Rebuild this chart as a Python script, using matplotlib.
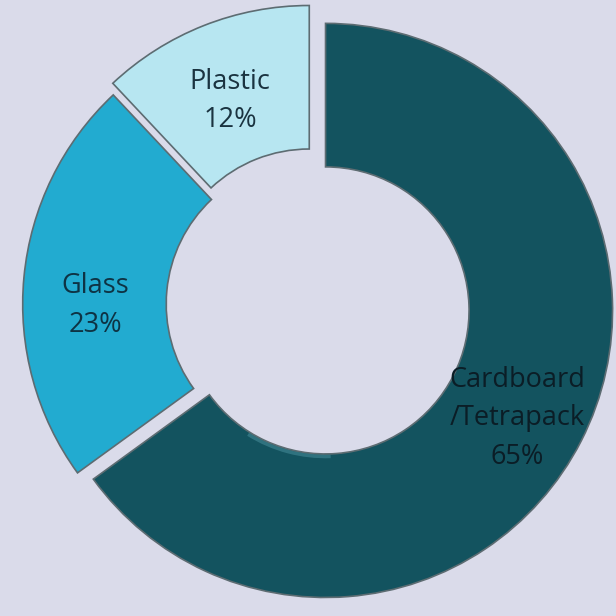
import matplotlib.pyplot as plt
from matplotlib.patches import Arc

# share of collected packaging by material
materials = ['Cardboard\n/Tetrapack', 'Glass', 'Plastic']
shares = [65, 23, 12]
colors = ['#13535f', '#22abd0', '#b7e6f1']
text_colors = ['#0b1d26', '#0e3344', '#1a3340']
label_nudge = [-0.035, -0.075, -0.03]

plt.rcParams['font.family'] = ['Open Sans', 'DejaVu Sans']

fig = plt.figure(figsize=(6.16, 6.16), dpi=100)
fig.patch.set_facecolor('#dadbea')
ax = fig.add_axes([0, 0, 1, 1])
ax.set_facecolor('#dadbea')

labels = [f'{m}\n{s}%' for m, s in zip(materials, shares)]
wedges, texts = ax.pie(shares, labels=labels, colors=colors,
                       startangle=90, counterclock=False,
                       explode=[0.045, 0.015, 0.045],
                       labeldistance=0.75,
                       wedgeprops=dict(width=0.5, edgecolor='#5d6c72', linewidth=1.2),
                       textprops=dict(fontsize=19.5, ha='center', va='center', linespacing=1.5))
for t, c, dy in zip(texts, text_colors, label_nudge):
    t.set_color(c)
    x, y = t.get_position()
    t.set_position((x, y + dy))

# soft bevel highlight hugging the inner rim of the big ring
cx, cy = wedges[0].center
ax.add_patch(Arc((cx, cy), 1.018, 1.018, theta1=-122, theta2=-88,
                 color='#5aa3b0', lw=2.5, alpha=0.4))

ax.set_xlim(-1.094, 1.052)
ax.set_ylim(-1.085, 1.061)
ax.set_aspect('equal')
ax.axis('off')

fig.savefig('out.png', dpi=100, facecolor=fig.get_facecolor())
